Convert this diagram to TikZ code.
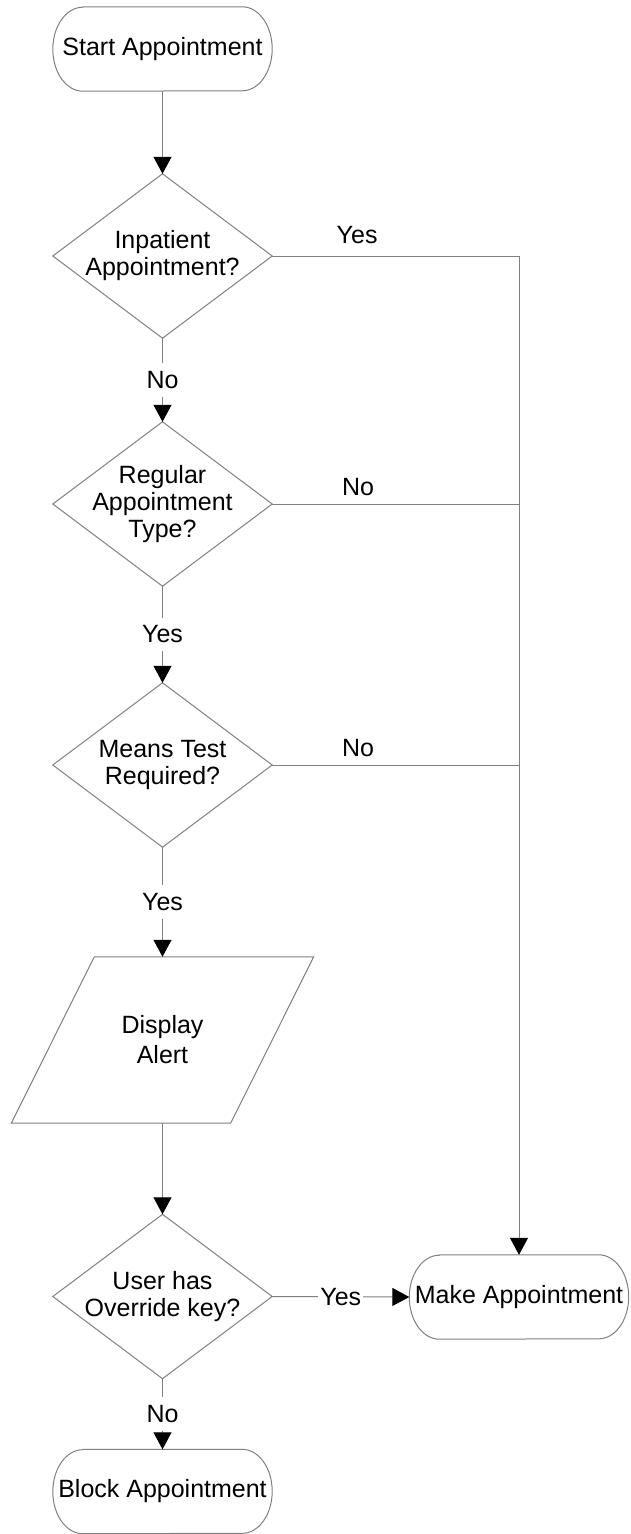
\documentclass[tikz,border=0pt]{standalone}
\usepackage{fontspec}
\setmainfont{Liberation Sans}
\usetikzlibrary{arrows.meta}
\definecolor{lgray}{RGB}{128,128,128}
\newcommand\termoutline[1]{%
  \draw[shapeline] ([xshift=30pt]#1.north west) -- ([xshift=-30pt]#1.north east)
    arc[start angle=90, end angle=-90, x radius=30pt, y radius=42pt]
    -- ([xshift=30pt]#1.south west)
    arc[start angle=270, end angle=90, x radius=30pt, y radius=42pt] -- cycle;}
\newcommand\diamoutline[1]{%
  \draw[shapeline] (#1.north) -- (#1.east) -- (#1.south) -- (#1.west) -- cycle;}
\begin{document}
\begin{tikzpicture}[x=1pt,y=-1pt,
  shapeline/.style={draw=lgray, line width=1pt},
  conn/.style={draw=lgray, line width=1pt},
  arr/.style={conn, -{Triangle[length=17pt,width=18pt,color=black]}},
  txt/.style={font=\fontsize{25}{27}\selectfont, align=center, text=black},
  termbox/.style={txt, shape=rectangle, inner sep=0pt, minimum width=219pt, minimum height=84pt},
  decbox/.style={txt, shape=rectangle, inner sep=0pt, minimum width=219pt, minimum height=164pt},
  lbl/.style={txt, fill=white, inner xsep=2pt, inner ysep=8pt},
  sidelbl/.style={txt, anchor=base, inner sep=0pt},
]
\useasboundingbox[fill=white] (0,0) rectangle (631,1534);

\node[termbox] (start) at (162.5,49) {Start Appointment};
\node[decbox] (d1) at (162.5,256) {Inpatient\\Appointment?};
\node[decbox] (d2) at (162.5,504) {Regular\\Appointment\\Type?};
\node[decbox] (d3) at (162.5,765) {Means Test\\Required?};
\node[txt, shape=rectangle, inner sep=0pt, minimum width=302pt, minimum height=166pt,
      font=\fontsize{25}{30}\selectfont] (para) at (162.5,1040) {Display\\Alert};
\node[decbox] (d4) at (162.5,1296.5) {User has\\Override key?};
\node[termbox] (make) at (519,1297) {Make Appointment};
\node[termbox] (block) at (162.5,1491.5) {Block Appointment};

\termoutline{start}
\termoutline{make}
\termoutline{block}
\diamoutline{d1}
\diamoutline{d2}
\diamoutline{d3}
\diamoutline{d4}
\draw[shapeline] ([xshift=83pt]para.north west) -- (para.north east)
  -- ([xshift=-83pt]para.south east) -- (para.south west) -- cycle;

\coordinate (j1) at (make.north |- d1.east);
\coordinate (j2) at (make.north |- d2.east);
\coordinate (j3) at (make.north |- d3.east);

\draw[arr] (start.south) -- (d1.north);
\draw[arr] (d1.south) -- node[lbl] {No} (d2.north);
\draw[arr] (d2.south) -- node[lbl] {Yes} (d3.north);
\draw[arr] (d3.south) -- node[lbl] {Yes} (para.north);
\draw[arr] (para.south) -- (d4.north);
\draw[arr] (d4.south) -- node[lbl] {No} (block.north);
\draw[arr] (d4.east) -- node[lbl] {Yes} (make.west);

\draw[arr] (d1.east) -- node[sidelbl, pos=0.344, yshift=12.5pt] {Yes} (j1) -- (make.north);
\draw[conn] (d2.east) -- node[sidelbl, pos=0.348, yshift=9pt] {No} (j2);
\draw[conn] (d3.east) -- node[sidelbl, pos=0.348, yshift=9pt] {No} (j3);
\end{tikzpicture}
\end{document}
